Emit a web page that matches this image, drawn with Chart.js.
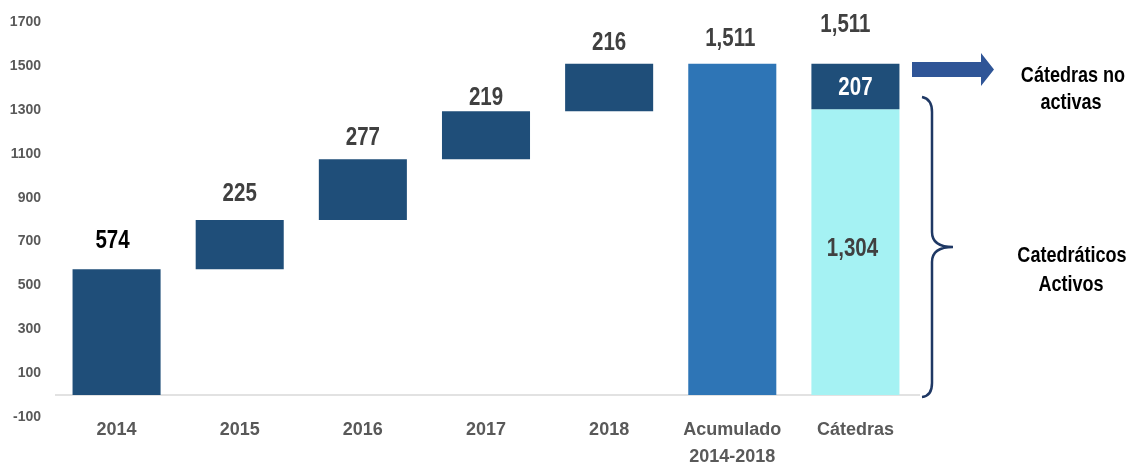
<!DOCTYPE html>
<html>
<head>
<meta charset="utf-8">
<script src="https://cdn.jsdelivr.net/npm/chart.js@4"></script>
<style>
  html, body { margin: 0; padding: 0; background: #ffffff; }
  #wrap { width: 1132px; height: 470px; position: relative; }
</style>
</head>
<body>
<div id="wrap"><canvas id="c"></canvas></div>
<script>
// ---- data ----
const categories = [['2014'], ['2015'], ['2016'], ['2017'], ['2018'], ['Acumulado', '2014-2018'], ['Cátedras']];
const yearlyIncrements = [574, 225, 277, 219, 216];
const accumulatedTotal = 1511;
const activeChairs = 1304;
const inactiveChairs = 207;
const yTicks = [-100, 100, 300, 500, 700, 900, 1100, 1300, 1500, 1700];

// ---- build waterfall ranges from the data ----
const waterfall = [];
let running = 0;
yearlyIncrements.forEach(v => { waterfall.push([running, running + v]); running += v; });
waterfall.push(null);
waterfall.push([activeChairs, activeChairs + inactiveChairs]);
const accumData = [null, null, null, null, null, [0, accumulatedTotal], null];
const activeData = [null, null, null, null, null, null, [0, activeChairs]];

const FONT = "'Liberation Sans', Arial, sans-serif";
const fmt = v => v.toLocaleString('en-US');

// narrow text (Arial Narrow look: Arial compressed horizontally)
function narrowText(ctx, text, x, y, size, color) {
  ctx.save();
  ctx.translate(x, y);
  ctx.scale(0.82, 1);
  ctx.font = 'bold ' + size + 'px ' + FONT;
  ctx.fillStyle = color;
  ctx.textAlign = 'center';
  ctx.textBaseline = 'middle';
  ctx.fillText(text, 0, 0);
  ctx.restore();
}

const topLabels = yearlyIncrements.map(fmt).concat([fmt(accumulatedTotal), fmt(activeChairs + inactiveChairs)]);
const topGap = [28, 26, 21, 13, 21, 25, 39];
const topDx = [-4, 0, 0, 0, 0, -2, -10];

const zeroLine = {
  id: 'zeroLine',
  beforeDatasetsDraw(chart) {
    const { ctx, chartArea, scales } = chart;
    const y = scales.y.getPixelForValue(0);
    ctx.save();
    ctx.strokeStyle = '#D9D9D9';
    ctx.lineWidth = 1.5;
    ctx.beginPath();
    ctx.moveTo(chartArea.left, y);
    ctx.lineTo(chartArea.right + 3, y);
    ctx.stroke();
    ctx.restore();
  }
};

const valueLabels = {
  id: 'valueLabels',
  afterDatasetsDraw(chart) {
    const { ctx, scales } = chart;
    for (let i = 0; i < categories.length; i++) {
      const x = scales.x.getPixelForValue(i) + topDx[i];
      let top;
      if (i < 5) top = waterfall[i][1];
      else if (i === 5) top = accumulatedTotal;
      else top = activeChairs + inactiveChairs;
      const y = scales.y.getPixelForValue(top) - topGap[i];
      narrowText(ctx, topLabels[i], x, y, 25, i === 0 ? '#000000' : '#404040');
    }
    const xc = scales.x.getPixelForValue(6);
    narrowText(ctx, fmt(inactiveChairs), xc, scales.y.getPixelForValue(activeChairs + inactiveChairs / 2) + 2, 25, '#FFFFFF');
    narrowText(ctx, fmt(activeChairs), xc - 3, scales.y.getPixelForValue(activeChairs / 2) - 3, 25, '#404040');
  }
};

const annotations = {
  id: 'annotations',
  afterDraw(chart) {
    const { ctx } = chart;
    ctx.save();
    ctx.fillStyle = '#2F5597';
    ctx.beginPath();
    ctx.moveTo(912, 62);
    ctx.lineTo(981, 62);
    ctx.lineTo(981, 53);
    ctx.lineTo(994, 69.5);
    ctx.lineTo(981, 86);
    ctx.lineTo(981, 77);
    ctx.lineTo(912, 77);
    ctx.closePath();
    ctx.fill();
    ctx.strokeStyle = '#1F3864';
    ctx.lineWidth = 2.5;
    ctx.beginPath();
    ctx.moveTo(922, 97);
    ctx.quadraticCurveTo(932, 99, 932, 112);
    ctx.lineTo(932, 232);
    ctx.quadraticCurveTo(932, 247, 953, 247);
    ctx.quadraticCurveTo(932, 247, 932, 262);
    ctx.lineTo(932, 383);
    ctx.quadraticCurveTo(932, 396, 922, 397);
    ctx.stroke();
    ctx.restore();
    narrowText(ctx, 'Cátedras no', 1073, 76, 22, '#000000');
    narrowText(ctx, 'activas', 1071, 103, 22, '#000000');
    narrowText(ctx, 'Catedráticos', 1072, 256, 22, '#000000');
    narrowText(ctx, 'Activos', 1071, 285, 22, '#000000');
  }
};

new Chart(document.getElementById('c'), {
  type: 'bar',
  data: {
    labels: categories,
    datasets: [
      { label: 'Incremento', data: waterfall, backgroundColor: '#1F4E79', grouped: false, barPercentage: 0.715, categoryPercentage: 1 },
      { label: 'Acumulado', data: accumData, backgroundColor: '#2E75B6', grouped: false, barPercentage: 0.715, categoryPercentage: 1 },
      { label: 'Activos', data: activeData, backgroundColor: '#A5F2F3', grouped: false, barPercentage: 0.715, categoryPercentage: 1 }
    ]
  },
  options: {
    responsive: true,
    maintainAspectRatio: false,
    animation: false,
    layout: { padding: { left: 0, right: 215, top: 11, bottom: 0 } },
    plugins: { legend: { display: false }, tooltip: { enabled: false } },
    scales: {
      x: {
        grid: { display: false, drawTicks: false },
        border: { display: false },
        ticks: {
          color: '#595959',
          font: { family: FONT, size: 18, weight: 'bold', lineHeight: 1.5 },
          padding: 0,
          maxRotation: 0,
          autoSkip: false
        },
        afterFit(scale) { scale.height = 53; }
      },
      y: {
        min: -100,
        max: 1700,
        grid: { display: false, drawTicks: false },
        border: { display: false },
        afterBuildTicks(scale) { scale.ticks = yTicks.map(v => ({ value: v })); },
        ticks: {
          color: '#595959',
          font: { family: FONT, size: 14, weight: 'bold' },
          padding: 14,
          callback: v => String(v)
        },
        afterFit(scale) { scale.width = 55; }
      }
    }
  },
  plugins: [zeroLine, valueLabels, annotations]
});
</script>
</body>
</html>
